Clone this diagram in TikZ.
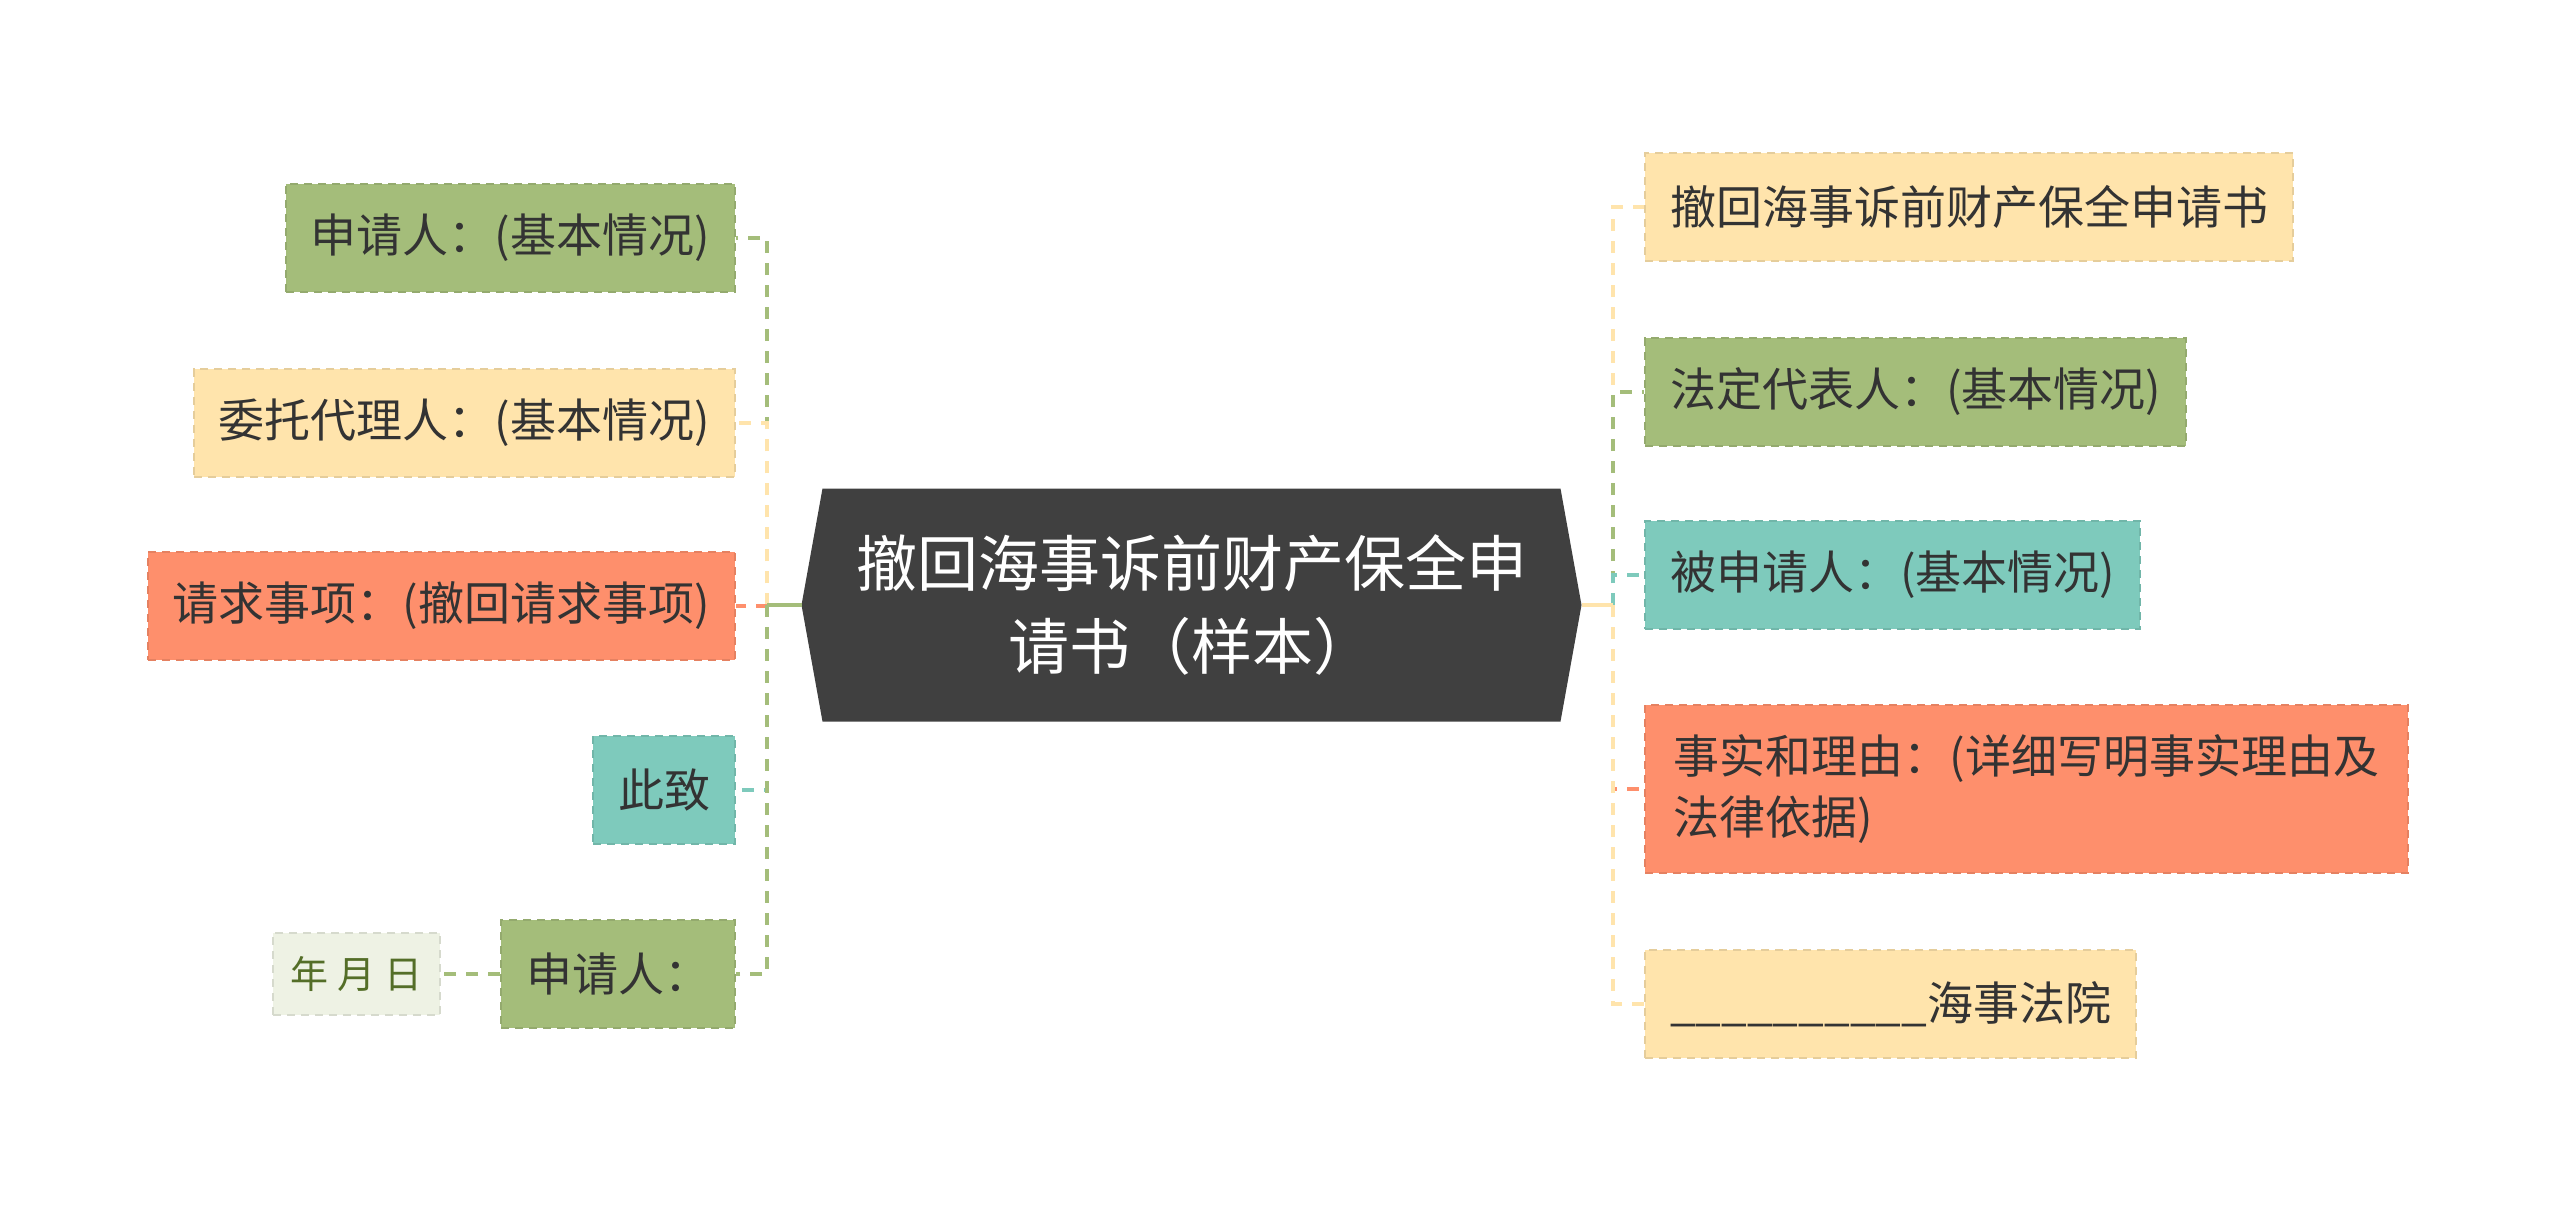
\documentclass[tikz,border=0pt]{standalone}
\usepackage{fontspec}
\newfontfamily\cjk{Noto Sans CJK SC}
\usetikzlibrary{backgrounds}

\definecolor{leafgreen}{RGB}{164,189,122}
\definecolor{leafyellow}{RGB}{255,228,172}
\definecolor{leafsalmon}{RGB}{254,143,108}
\definecolor{leafteal}{RGB}{126,202,188}
\definecolor{datefill}{RGB}{238,242,228}
\definecolor{datetext}{RGB}{84,110,40}
\definecolor{rootfill}{RGB}{64,64,64}
\definecolor{leaftext}{RGB}{51,51,51}

\tikzset{every picture/.style={line width=0.75pt}}
\tikzset{
  leaf/.style={draw=#1!90!black, fill=#1, dash pattern=on 2pt off 1.5pt, line width=0.5pt,
    minimum height=27pt, inner xsep=6.25pt, text=leaftext, align=left,
    font=\cjk\fontsize{11.5}{15.25}\selectfont},
  link/.style={draw=#1, line width=0.85pt, dash pattern=on 3pt off 2.5pt},
}

\begin{document}
\begin{tikzpicture}[x=0.25pt,y=0.25pt,yscale=-1,xscale=1]
	\useasboundingbox (0,0) rectangle (2560,1211);
	
	%Shape: Hexagon (root)
	\node [minimum width=194.25pt, minimum height=57.5pt, inner xsep=8pt, align=center, text=white, font=\cjk\fontsize{15.25}{20.75}\selectfont] (root) at (1191.5,605) {撤回海事诉前财产保全申\\请书（样本）};
	\begin{scope}[on background layer]
		\fill [rootfill] (root.west) -- ([xshift=5.25pt]root.north west) -- ([xshift=-5.25pt]root.north east) -- (root.east) -- ([xshift=-5.25pt]root.south east) -- ([xshift=5.25pt]root.south west) -- cycle ;
	\end{scope}
	
	% Text Node
	\node [leaf=leafgreen, anchor=east] (app) at (736,238) {申请人：(基本情况)};
	% Text Node
	\node [leaf=leafyellow, anchor=east] (agent) at (736,423) {委托代理人：(基本情况)};
	% Text Node
	\node [leaf=leafsalmon, anchor=east] (claim) at (736,606) {请求事项：(撤回请求事项)};
	% Text Node
	\node [leaf=leafteal, anchor=east] (regards) at (736,790) {此致};
	% Text Node
	\node [leaf=leafgreen, anchor=east] (sign) at (736,974) {申请人：};
	% Text Node
	\node [leaf=datefill, text=datetext, font=\cjk\fontsize{9.5}{12}\selectfont, inner xsep=4pt, minimum width=41.75pt, minimum height=20.5pt, anchor=east] (date) at (441,974) {年 月 日};
	
	% Text Node
	\node [leaf=leafyellow, anchor=west] (title) at (1644,207) {撤回海事诉前财产保全申请书};
	% Text Node
	\node [leaf=leafgreen, anchor=west] (legal) at (1644,392) {法定代表人：(基本情况)};
	% Text Node
	\node [leaf=leafteal, anchor=west] (resp) at (1644,575) {被申请人：(基本情况)};
	% Text Node
	\node [leaf=leafsalmon, anchor=west, minimum width=190.75pt, minimum height=42pt] (facts) at (1644,789) {事实和理由：(详细写明事实理由及\\法律依据)};
	% Text Node
	\node [leaf=leafyellow, anchor=west] (court) at (1644,1004) {\_\_\_\_\_\_\_\_\_\_海事法院};
	
	%Straight Lines
	\coordinate (lspine) at (767,605);
	\coordinate (rspine) at (1613,605);
	\draw [link=leafgreen] (lspine) |- (app.east);
	\draw [link=leafyellow] (lspine) |- (agent.east);
	\draw [link=leafsalmon] (lspine) |- (claim.east);
	\draw [link=leafteal] (lspine) |- (regards.east);
	\draw [link=leafgreen] (lspine) |- (sign.east);
	\draw [link=leafgreen] (sign.west) -- (date.east);
	\draw [leafgreen, line width=0.85pt] (root.west) -- (lspine);
	
	\draw [link=leafyellow] (rspine) |- (title.west);
	\draw [link=leafgreen] (rspine) |- (legal.west);
	\draw [link=leafteal] (rspine) |- (resp.west);
	\draw [link=leafsalmon] (rspine) |- (facts.west);
	\draw [link=leafyellow] (rspine) |- (court.west);
	\draw [leafyellow, line width=0.85pt] (root.east) -- (rspine);
	
\end{tikzpicture}
\end{document}
